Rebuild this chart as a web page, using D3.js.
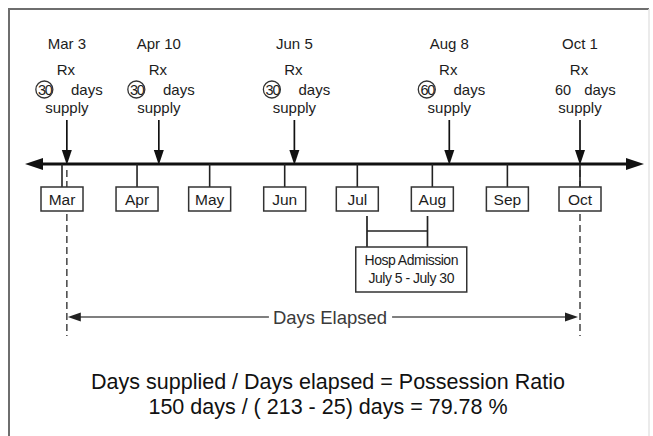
<!DOCTYPE html>
<html>
<head>
<meta charset="utf-8">
<script src="https://cdn.jsdelivr.net/npm/d3@7/dist/d3.min.js"></script>
<style>
  html, body { margin: 0; padding: 0; background: #fff; }
  svg { display: block; }
  text { font-family: "Liberation Sans", Arial, sans-serif; }
</style>
</head>
<body>
<script>
// ---- data ----
const year = 2001;
const monthLabels = ["Mar", "Apr", "May", "Jun", "Jul", "Aug", "Sep", "Oct"];
const monthStarts = ["Mar 1", "Apr 1", "May 1", "Jun 1", "Jul 1", "Aug 1", "Sep 1", "Oct 1"];
const rxDates = ["Mar 3", "Apr 10", "Jun 5", "Aug 8", "Oct 1"];
const rxSupplyDays = [30, 30, 30, 60, 60];
const rxCircled = [true, true, true, true, false];
const hospitalStay = ["Jul 5", "Jul 30"];
const hospitalLabel = ["Hosp Admission", "July 5 - July 30"];
const elapsedRange = ["Mar 3", "Oct 1"];
const elapsedLabel = "Days Elapsed";
const formulaLines = [
  "Days supplied / Days elapsed = Possession Ratio",
  "150 days / ( 213 - 25) days = 79.78 %"
];

// ---- setup ----
const W = 653, H = 436;
const parse = s => d3.timeParse("%b %d %Y")(s + " " + year);
const svg = d3.select("body").append("svg").attr("width", W).attr("height", H);

const x = d3.scaleTime()
  .domain([parse(monthStarts[0]), parse(monthStarts[monthStarts.length - 1])])
  .range([62, 580]);

const lineY = 164;
const ink = "#111";
const txt = "#1c1c1c";

// frame
svg.append("path").attr("d", `M9,${H + 2} L9,9 L649,9`)
  .attr("fill", "none").attr("stroke", "#6e6e6e").attr("stroke-width", 2);
svg.append("path").attr("d", `M649,9 L649,${H + 2}`)
  .attr("fill", "none").attr("stroke", "#e4e4e4").attr("stroke-width", 1.5);

// dashed elapsed boundaries
const dashG = svg.append("g");
elapsedRange.forEach(d => {
  dashG.append("line")
    .attr("x1", x(parse(d))).attr("x2", x(parse(d)))
    .attr("y1", 170).attr("y2", 336)
    .attr("stroke", "#444").attr("stroke-width", 1.5)
    .attr("stroke-dasharray", "7,4");
});

// main timeline
svg.append("line").attr("x1", 36).attr("x2", 632).attr("y1", lineY).attr("y2", lineY)
  .attr("stroke", ink).attr("stroke-width", 3);
svg.append("path").attr("d", `M25,${lineY} L43,${lineY - 6} L43,${lineY + 6} Z`).attr("fill", ink);
svg.append("path").attr("d", `M644,${lineY} L626,${lineY - 6} L626,${lineY + 6} Z`).attr("fill", ink);

// month ticks & boxes
const mg = svg.append("g").selectAll("g").data(monthLabels).join("g")
  .attr("transform", (d, i) => `translate(${x(parse(monthStarts[i]))},0)`);
mg.append("line").attr("y1", lineY).attr("y2", 187).attr("stroke", "#222").attr("stroke-width", 1.6);
mg.append("rect").attr("x", -21).attr("y", 187).attr("width", 42).attr("height", 24)
  .attr("fill", "#fff").attr("stroke", "#333").attr("stroke-width", 1.5);
mg.append("text").attr("y", 205).attr("text-anchor", "middle")
  .attr("font-size", 15.5).attr("fill", txt).text(d => d);

// Rx events
const rg = svg.append("g").selectAll("g").data(rxDates).join("g")
  .attr("transform", d => `translate(${x(parse(d))},0)`);
rg.append("line").attr("y1", 120).attr("y2", 152).attr("stroke", ink).attr("stroke-width", 1.7);
rg.append("path").attr("d", `M-5,150 L5,150 L0,165 Z`).attr("fill", ink);
rg.append("text").attr("y", 49).attr("text-anchor", "middle").attr("font-size", 15)
  .attr("fill", txt).text(d => d);
rg.append("text").attr("x", -1).attr("y", 75).attr("text-anchor", "middle").attr("font-size", 15)
  .attr("fill", txt).text("Rx");
rg.append("text").attr("x", (d, i) => rxCircled[i] ? -22 : -17).attr("y", 94.5)
  .attr("text-anchor", "middle").attr("font-size", 14.5)
  .attr("letter-spacing", (d, i) => rxCircled[i] ? -1.2 : 0)
  .attr("fill", txt).text((d, i) => rxSupplyDays[i]);
rg.filter((d, i) => rxCircled[i]).append("circle")
  .attr("cx", -22.5).attr("cy", 89.5).attr("r", 8.5)
  .attr("fill", "none").attr("stroke", "#333").attr("stroke-width", 1.3);
rg.append("text").attr("x", 20).attr("y", 94.5).attr("text-anchor", "middle").attr("font-size", 15)
  .attr("fill", txt).text("days");
rg.append("text").attr("x", 0).attr("y", 113).attr("text-anchor", "middle").attr("font-size", 15)
  .attr("fill", txt).text("supply");

// hospital bracket
const hx0 = x(parse(hospitalStay[0])), hx1 = x(parse(hospitalStay[1]));
const hb = svg.append("g").attr("stroke", "#222").attr("stroke-width", 1.7);
hb.append("line").attr("x1", hx0).attr("x2", hx0).attr("y1", 216).attr("y2", 247);
hb.append("line").attr("x1", hx1).attr("x2", hx1).attr("y1", 216).attr("y2", 247);
hb.append("line").attr("x1", hx0).attr("x2", hx1).attr("y1", 231).attr("y2", 231);
const hcx = (hx0 + hx1) / 2 + 14;
svg.append("rect").attr("x", hcx - 55.5).attr("y", 247).attr("width", 111).attr("height", 45)
  .attr("fill", "#fff").attr("stroke", "#333").attr("stroke-width", 1.5);
svg.selectAll("text.hosp").data(hospitalLabel).join("text").attr("class", "hosp")
  .attr("x", hcx).attr("y", (d, i) => 264.5 + i * 18).attr("text-anchor", "middle")
  .attr("font-size", 14).attr("letter-spacing", -0.5).attr("fill", txt).text(d => d);

// days elapsed arrow
const ex0 = x(parse(elapsedRange[0])), ex1 = x(parse(elapsedRange[1]));
const ey = 317;
const emid = 330;
const eg = svg.append("g");
const eText = eg.append("text").attr("x", emid).attr("y", ey + 7).attr("text-anchor", "middle")
  .attr("font-size", 18.5).attr("fill", "#3a3a3a").text(elapsedLabel);
const tw = eText.node().getComputedTextLength();
eg.append("line").attr("x1", ex0 + 12).attr("x2", emid - tw / 2 - 4).attr("y1", ey).attr("y2", ey)
  .attr("stroke", "#555").attr("stroke-width", 1.6);
eg.append("line").attr("x1", emid + tw / 2 + 5).attr("x2", ex1 - 12).attr("y1", ey).attr("y2", ey)
  .attr("stroke", "#555").attr("stroke-width", 1.6);
eg.append("path").attr("d", `M${ex0 + 1},${ey} L${ex0 + 14},${ey - 4.5} L${ex0 + 14},${ey + 4.5} Z`).attr("fill", "#222");
eg.append("path").attr("d", `M${ex1 - 2},${ey} L${ex1 - 15},${ey - 4.5} L${ex1 - 15},${ey + 4.5} Z`).attr("fill", "#222");

// formula
svg.selectAll("text.formula").data(formulaLines).join("text").attr("class", "formula")
  .attr("x", 328).attr("y", (d, i) => 389 + i * 25).attr("text-anchor", "middle")
  .attr("font-size", 21.5).attr("fill", "#111").text(d => d);
</script>
</body>
</html>
